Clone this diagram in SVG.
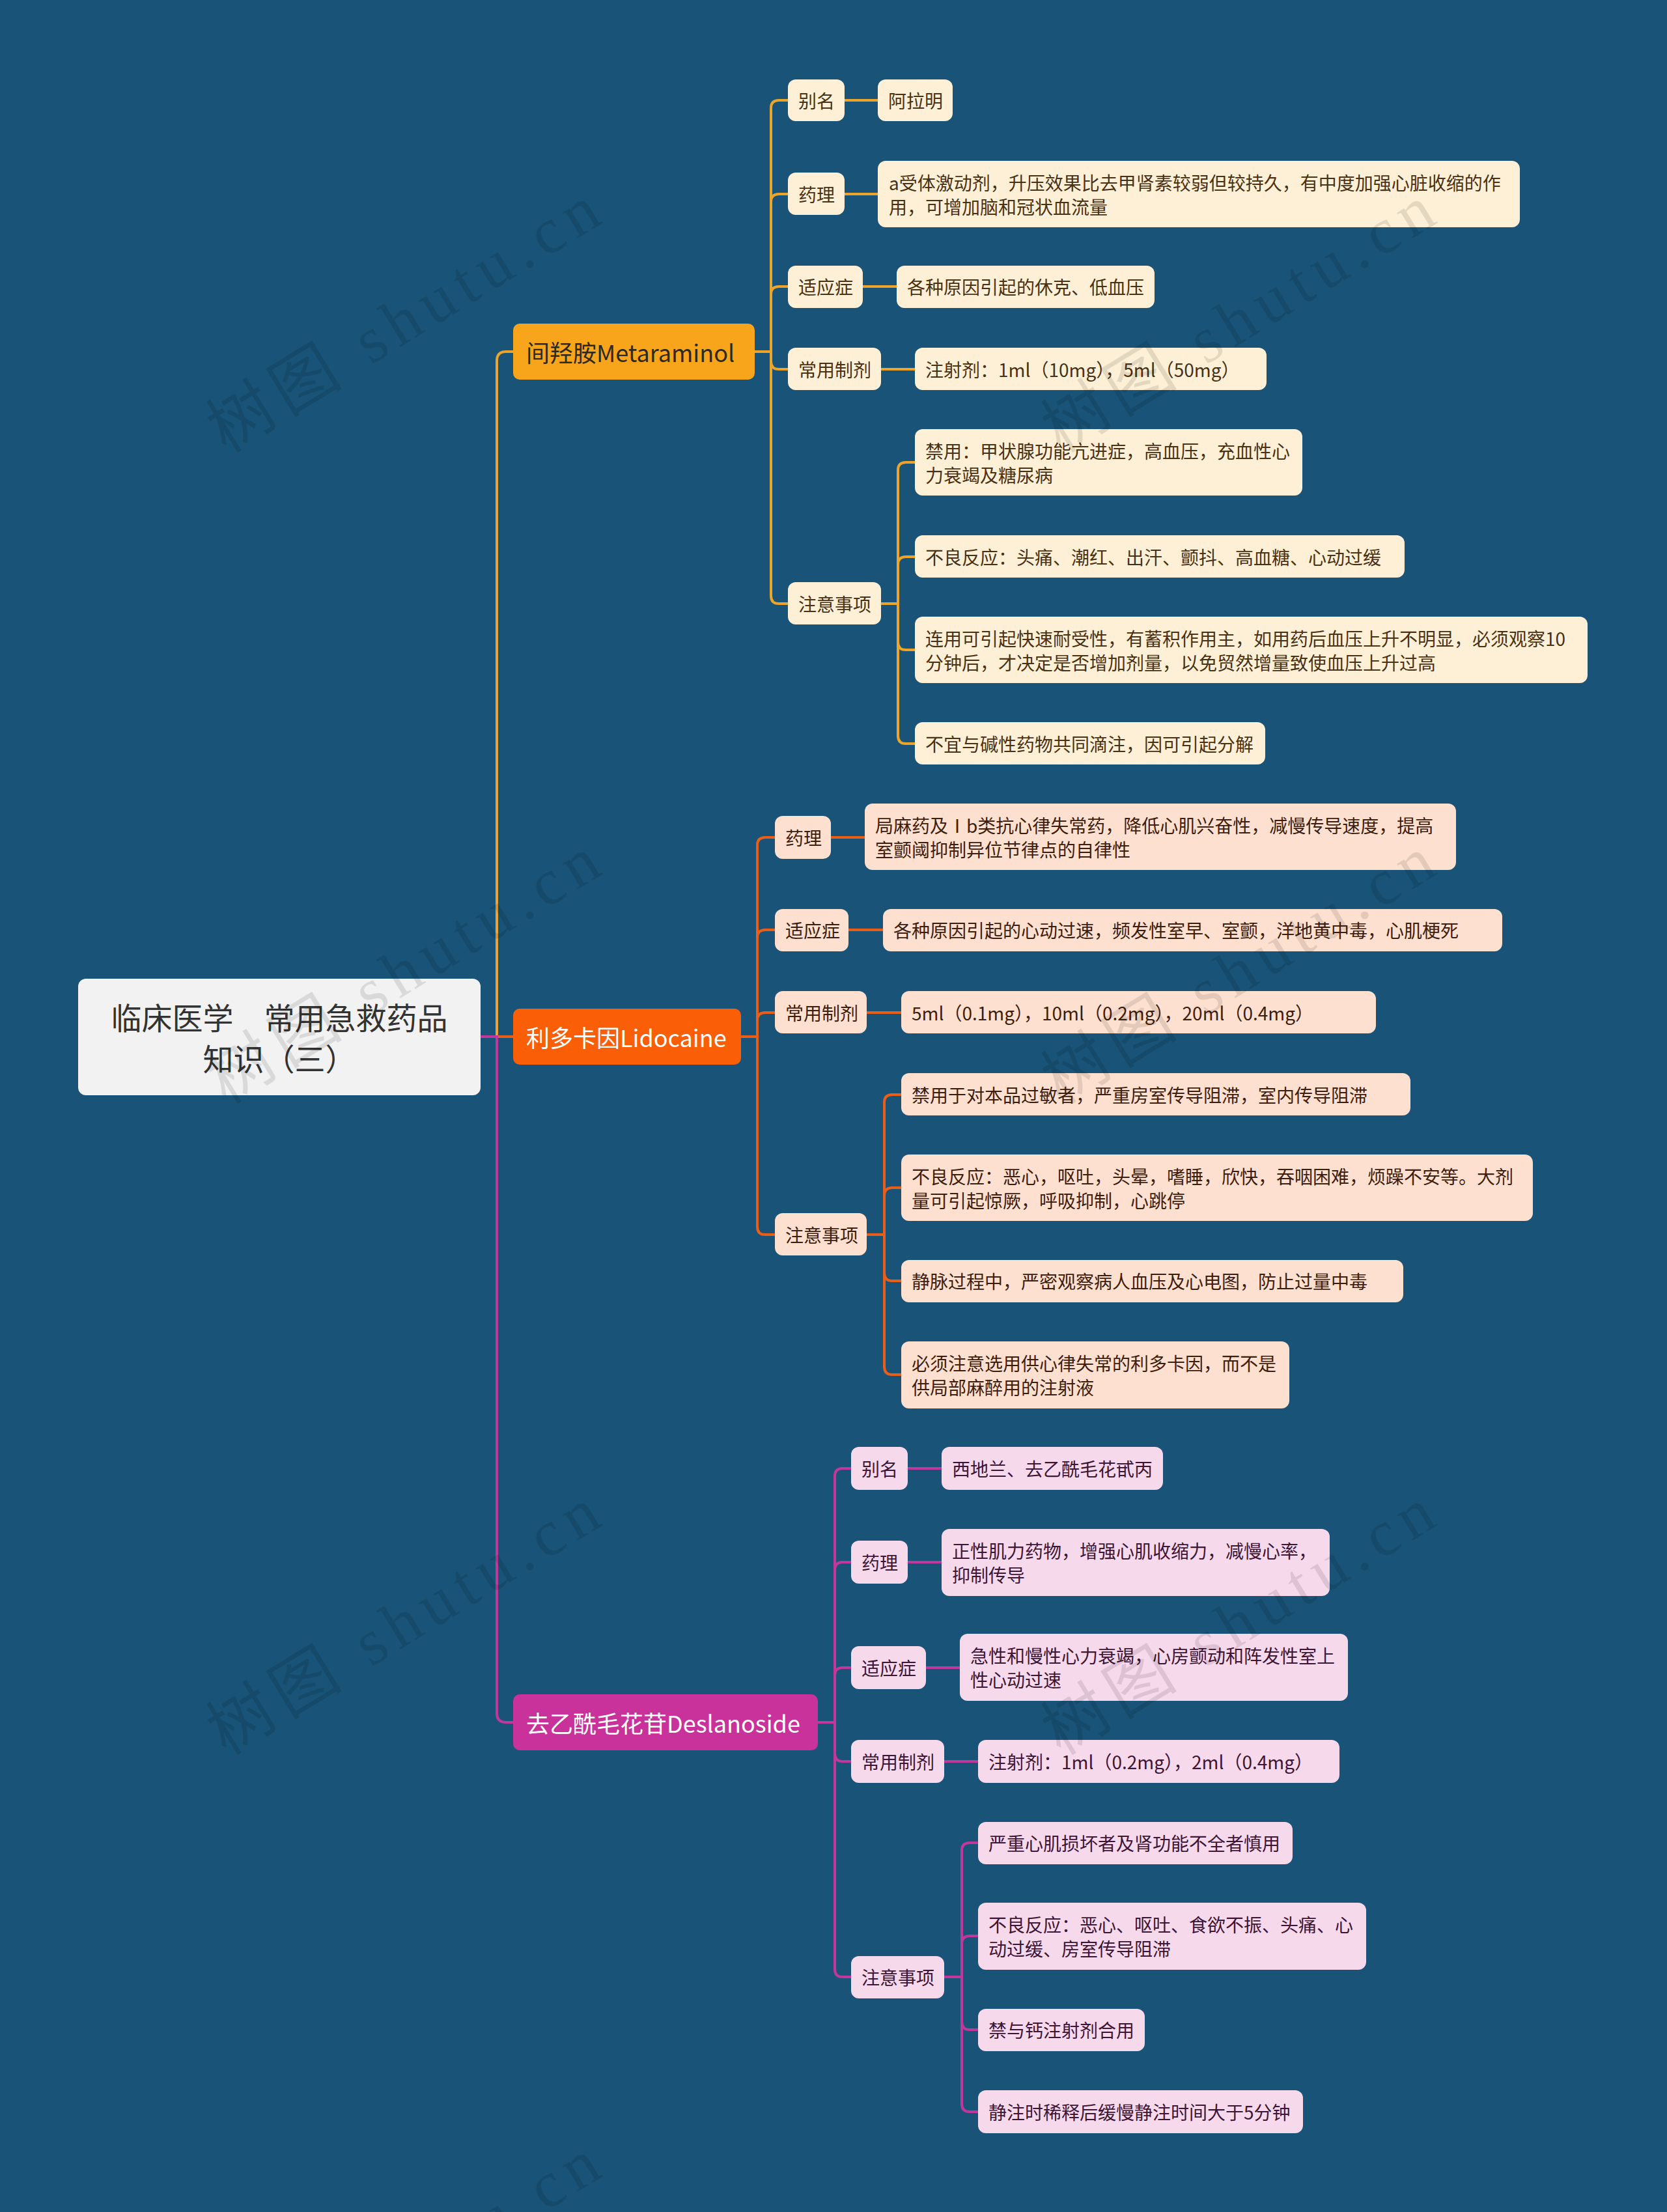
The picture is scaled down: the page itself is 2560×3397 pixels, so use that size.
<svg xmlns="http://www.w3.org/2000/svg" width="2560" height="3397" viewBox="0 0 2560 3397">
<style>
.t{font-family:"Noto Sans CJK SC","Liberation Sans",sans-serif;dominant-baseline:central}
.wm{font-family:"Liberation Serif","Noto Sans CJK SC",serif;font-size:100px;fill:#000;fill-opacity:0.1;letter-spacing:12px}
.root rect{fill:#f2f2f2}
.root text{fill:#333;font-size:47px;text-anchor:middle}
.l1 text{font-size:36px}
.l2 text,.l3 text{font-size:28px}
.a rect{fill:#fdf0d6}.a text{fill:#4a3113}
.b rect{fill:#fde0cf}.b text{fill:#3d1d0e}
.c rect{fill:#f7d9ec}.c text{fill:#3d1535}
#edges path{fill:none;stroke-width:4}
.ea{stroke:#eca42b}.eb{stroke:#ea5e18}.ec{stroke:#c2389a}
</style>
<rect width="2560" height="3397" fill="#195377"/>
<g id="edges">
<path class="ea" d="M738 1592H763V554Q763 540 777 540H788"/>
<path class="eb" d="M738 1592H788"/>
<path class="ec" d="M738 1592H763V2631Q763 2645 777 2645H788"/>
<path class="ea" d="M1159 540H1184V166Q1184 154 1196 154H1210"/>
<path class="ea" d="M1159 540H1184V310Q1184 298 1196 298H1210"/>
<path class="ea" d="M1159 540H1184V452Q1184 440 1196 440H1210"/>
<path class="ea" d="M1159 540H1184V555Q1184 567 1196 567H1210"/>
<path class="ea" d="M1159 540H1184V915Q1184 927 1196 927H1210"/>
<path class="ea" d="M1297 154H1348"/>
<path class="ea" d="M1297 298H1348"/>
<path class="ea" d="M1325 440H1377"/>
<path class="ea" d="M1353 567H1405"/>
<path class="ea" d="M1353 927H1379V722Q1379 710 1391 710H1405"/>
<path class="ea" d="M1353 927H1379V867Q1379 855 1391 855H1405"/>
<path class="ea" d="M1353 927H1379V986Q1379 998 1391 998H1405"/>
<path class="ea" d="M1353 927H1379V1130Q1379 1142 1391 1142H1405"/>
<path class="eb" d="M1138 1592H1163V1298Q1163 1286 1175 1286H1190"/>
<path class="eb" d="M1138 1592H1163V1440Q1163 1428 1175 1428H1190"/>
<path class="eb" d="M1138 1592H1163V1567Q1163 1555 1175 1555H1190"/>
<path class="eb" d="M1138 1592H1163V1884Q1163 1896 1175 1896H1190"/>
<path class="eb" d="M1276 1286H1328"/>
<path class="eb" d="M1303 1428H1356"/>
<path class="eb" d="M1331 1555H1384"/>
<path class="eb" d="M1331 1896H1358V1693Q1358 1681 1370 1681H1384"/>
<path class="eb" d="M1331 1896H1358V1836Q1358 1824 1370 1824H1384"/>
<path class="eb" d="M1331 1896H1358V1955Q1358 1967 1370 1967H1384"/>
<path class="eb" d="M1331 1896H1358V2099Q1358 2111 1370 2111H1384"/>
<path class="ec" d="M1256 2645H1282V2267Q1282 2255 1294 2255H1307"/>
<path class="ec" d="M1256 2645H1282V2411Q1282 2399 1294 2399H1307"/>
<path class="ec" d="M1256 2645H1282V2573Q1282 2561 1294 2561H1307"/>
<path class="ec" d="M1256 2645H1282V2693Q1282 2705 1294 2705H1307"/>
<path class="ec" d="M1256 2645H1282V3024Q1282 3036 1294 3036H1307"/>
<path class="ec" d="M1394 2255H1446"/>
<path class="ec" d="M1394 2399H1446"/>
<path class="ec" d="M1422 2561H1474"/>
<path class="ec" d="M1450 2705H1502"/>
<path class="ec" d="M1450 3036H1477V2842Q1477 2830 1489 2830H1502"/>
<path class="ec" d="M1450 3036H1477V2985Q1477 2973 1489 2973H1502"/>
<path class="ec" d="M1450 3036H1477V3105Q1477 3117 1489 3117H1502"/>
<path class="ec" d="M1450 3036H1477V3231Q1477 3243 1489 3243H1502"/>
</g>
<g id="root" class="root"><rect x="120" y="1503" width="618" height="179" rx="12"/><text class="t" x="429" y="1560">临床医学　常用急救药品</text><text class="t" x="429" y="1623">知识（三）</text></g>
<g id="n-metaraminol" class="l1"><rect x="788" y="497" width="371" height="86" rx="10" fill="#f9a51c"/><text class="t" x="808" y="540" fill="#2e2a22">间羟胺Metaraminol</text></g>
<g id="n-lidocaine" class="l1"><rect x="788" y="1549" width="350" height="86" rx="10" fill="#fa5e07"/><text class="t" x="808" y="1592" fill="#fff">利多卡因Lidocaine</text></g>
<g id="n-deslanoside" class="l1"><rect x="788" y="2602" width="468" height="86" rx="10" fill="#c8329a"/><text class="t" x="808" y="2645" fill="#fff">去乙酰毛花苷Deslanoside</text></g>

<g id="a-alias" class="l2 a"><rect x="1210" y="122" width="87" height="64" rx="12"/><text class="t" x="1226" y="154">别名</text></g>
<g id="a-alias-v" class="l3 a"><rect x="1348" y="122" width="115" height="64" rx="12"/><text class="t" x="1364" y="154">阿拉明</text></g>
<g id="a-pharm" class="l2 a"><rect x="1210" y="265" width="87" height="65" rx="12"/><text class="t" x="1226" y="298">药理</text></g>
<g id="a-pharm-v" class="l3 a"><rect x="1348" y="247" width="986" height="102" rx="12"/><text class="t" x="1365" y="280">a受体激动剂，升压效果比去甲肾素较弱但较持久，有中度加强心脏收缩的作</text><text class="t" x="1365" y="317">用，可增加脑和冠状血流量</text></g>
<g id="a-ind" class="l2 a"><rect x="1210" y="408" width="115" height="65" rx="12"/><text class="t" x="1226" y="440">适应症</text></g>
<g id="a-ind-v" class="l3 a"><rect x="1377" y="408" width="396" height="65" rx="12"/><text class="t" x="1393" y="440">各种原因引起的休克、低血压</text></g>
<g id="a-prep" class="l2 a"><rect x="1210" y="534" width="143" height="65" rx="12"/><text class="t" x="1226" y="567">常用制剂</text></g>
<g id="a-prep-v" class="l3 a"><rect x="1405" y="534" width="540" height="65" rx="12"/><text class="t" x="1421" y="567">注射剂：1ml（10mg），5ml（50mg）</text></g>
<g id="a-note" class="l2 a"><rect x="1210" y="894" width="143" height="65" rx="12"/><text class="t" x="1226" y="927">注意事项</text></g>
<g id="a-note-1" class="l3 a"><rect x="1405" y="659" width="595" height="102" rx="12"/><text class="t" x="1421" y="692">禁用：甲状腺功能亢进症，高血压，充血性心</text><text class="t" x="1421" y="729">力衰竭及糖尿病</text></g>
<g id="a-note-2" class="l3 a"><rect x="1405" y="822" width="752" height="65" rx="12"/><text class="t" x="1421" y="855">不良反应：头痛、潮红、出汗、颤抖、高血糖、心动过缓</text></g>
<g id="a-note-3" class="l3 a"><rect x="1405" y="947" width="1033" height="102" rx="12"/><text class="t" x="1421" y="980">连用可引起快速耐受性，有蓄积作用主，如用药后血压上升不明显，必须观察10</text><text class="t" x="1421" y="1017">分钟后，才决定是否增加剂量，以免贸然增量致使血压上升过高</text></g>
<g id="a-note-4" class="l3 a"><rect x="1405" y="1109" width="538" height="65" rx="12"/><text class="t" x="1421" y="1142">不宜与碱性药物共同滴注，因可引起分解</text></g>

<g id="b-pharm" class="l2 b"><rect x="1190" y="1253" width="86" height="66" rx="12"/><text class="t" x="1206" y="1286">药理</text></g>
<g id="b-pharm-v" class="l3 b"><rect x="1328" y="1234" width="908" height="102" rx="12"/><text class="t" x="1344" y="1267">局麻药及Ⅰb类抗心律失常药，降低心肌兴奋性，减慢传导速度，提高</text><text class="t" x="1344" y="1304">室颤阈抑制异位节律点的自律性</text></g>
<g id="b-ind" class="l2 b"><rect x="1190" y="1396" width="113" height="65" rx="12"/><text class="t" x="1206" y="1428">适应症</text></g>
<g id="b-ind-v" class="l3 b"><rect x="1356" y="1396" width="951" height="65" rx="12"/><text class="t" x="1372" y="1428">各种原因引起的心动过速，频发性室早、室颤，洋地黄中毒，心肌梗死</text></g>
<g id="b-prep" class="l2 b"><rect x="1190" y="1522" width="141" height="65" rx="12"/><text class="t" x="1206" y="1555">常用制剂</text></g>
<g id="b-prep-v" class="l3 b"><rect x="1384" y="1522" width="729" height="65" rx="12"/><text class="t" x="1400" y="1555">5ml（0.1mg），10ml（0.2mg），20ml（0.4mg）</text></g>
<g id="b-note" class="l2 b"><rect x="1190" y="1863" width="141" height="65" rx="12"/><text class="t" x="1206" y="1896">注意事项</text></g>
<g id="b-note-1" class="l3 b"><rect x="1384" y="1648" width="782" height="65" rx="12"/><text class="t" x="1400" y="1681">禁用于对本品过敏者，严重房室传导阻滞，室内传导阻滞</text></g>
<g id="b-note-2" class="l3 b"><rect x="1384" y="1773" width="970" height="102" rx="12"/><text class="t" x="1400" y="1806">不良反应：恶心，呕吐，头晕，嗜睡，欣快，吞咽困难，烦躁不安等。大剂</text><text class="t" x="1400" y="1843">量可引起惊厥，呼吸抑制，心跳停</text></g>
<g id="b-note-3" class="l3 b"><rect x="1384" y="1935" width="771" height="65" rx="12"/><text class="t" x="1400" y="1967">静脉过程中，严密观察病人血压及心电图，防止过量中毒</text></g>
<g id="b-note-4" class="l3 b"><rect x="1384" y="2060" width="596" height="103" rx="12"/><text class="t" x="1400" y="2093">必须注意选用供心律失常的利多卡因，而不是</text><text class="t" x="1400" y="2130">供局部麻醉用的注射液</text></g>

<g id="c-alias" class="l2 c"><rect x="1307" y="2222" width="87" height="66" rx="12"/><text class="t" x="1323" y="2255">别名</text></g>
<g id="c-alias-v" class="l3 c"><rect x="1446" y="2222" width="340" height="66" rx="12"/><text class="t" x="1462" y="2255">西地兰、去乙酰毛花甙丙</text></g>
<g id="c-pharm" class="l2 c"><rect x="1307" y="2366" width="87" height="66" rx="12"/><text class="t" x="1323" y="2399">药理</text></g>
<g id="c-pharm-v" class="l3 c"><rect x="1446" y="2348" width="596" height="103" rx="12"/><text class="t" x="1462" y="2381">正性肌力药物，增强心肌收缩力，减慢心率，</text><text class="t" x="1462" y="2418">抑制传导</text></g>
<g id="c-ind" class="l2 c"><rect x="1307" y="2528" width="115" height="66" rx="12"/><text class="t" x="1323" y="2561">适应症</text></g>
<g id="c-ind-v" class="l3 c"><rect x="1474" y="2509" width="596" height="103" rx="12"/><text class="t" x="1490" y="2542">急性和慢性心力衰竭，心房颤动和阵发性室上</text><text class="t" x="1490" y="2579">性心动过速</text></g>
<g id="c-prep" class="l2 c"><rect x="1307" y="2672" width="143" height="66" rx="12"/><text class="t" x="1323" y="2705">常用制剂</text></g>
<g id="c-prep-v" class="l3 c"><rect x="1502" y="2672" width="555" height="66" rx="12"/><text class="t" x="1518" y="2705">注射剂：1ml（0.2mg），2ml（0.4mg）</text></g>
<g id="c-note" class="l2 c"><rect x="1307" y="3004" width="143" height="65" rx="12"/><text class="t" x="1323" y="3036">注意事项</text></g>
<g id="c-note-1" class="l3 c"><rect x="1502" y="2798" width="483" height="65" rx="12"/><text class="t" x="1518" y="2830">严重心肌损坏者及肾功能不全者慎用</text></g>
<g id="c-note-2" class="l3 c"><rect x="1502" y="2922" width="596" height="103" rx="12"/><text class="t" x="1518" y="2955">不良反应：恶心、呕吐、食欲不振、头痛、心</text><text class="t" x="1518" y="2992">动过缓、房室传导阻滞</text></g>
<g id="c-note-3" class="l3 c"><rect x="1502" y="3085" width="256" height="65" rx="12"/><text class="t" x="1518" y="3117">禁与钙注射剂合用</text></g>
<g id="c-note-4" class="l3 c"><rect x="1502" y="3210" width="499" height="66" rx="12"/><text class="t" x="1518" y="3243">静注时稀释后缓慢静注时间大于5分钟</text></g>
<g id="watermark">
<text class="wm" transform="translate(347 697) rotate(-31.5)">树图 shutu.cn</text>
<text class="wm" transform="translate(1629 697) rotate(-31.5)">树图 shutu.cn</text>
<text class="wm" transform="translate(347 1697) rotate(-31.5)">树图 shutu.cn</text>
<text class="wm" transform="translate(1629 1697) rotate(-31.5)">树图 shutu.cn</text>
<text class="wm" transform="translate(347 2697) rotate(-31.5)">树图 shutu.cn</text>
<text class="wm" transform="translate(1629 2697) rotate(-31.5)">树图 shutu.cn</text>
<text class="wm" transform="translate(347 3697) rotate(-31.5)">树图 shutu.cn</text>
</g>
</svg>
